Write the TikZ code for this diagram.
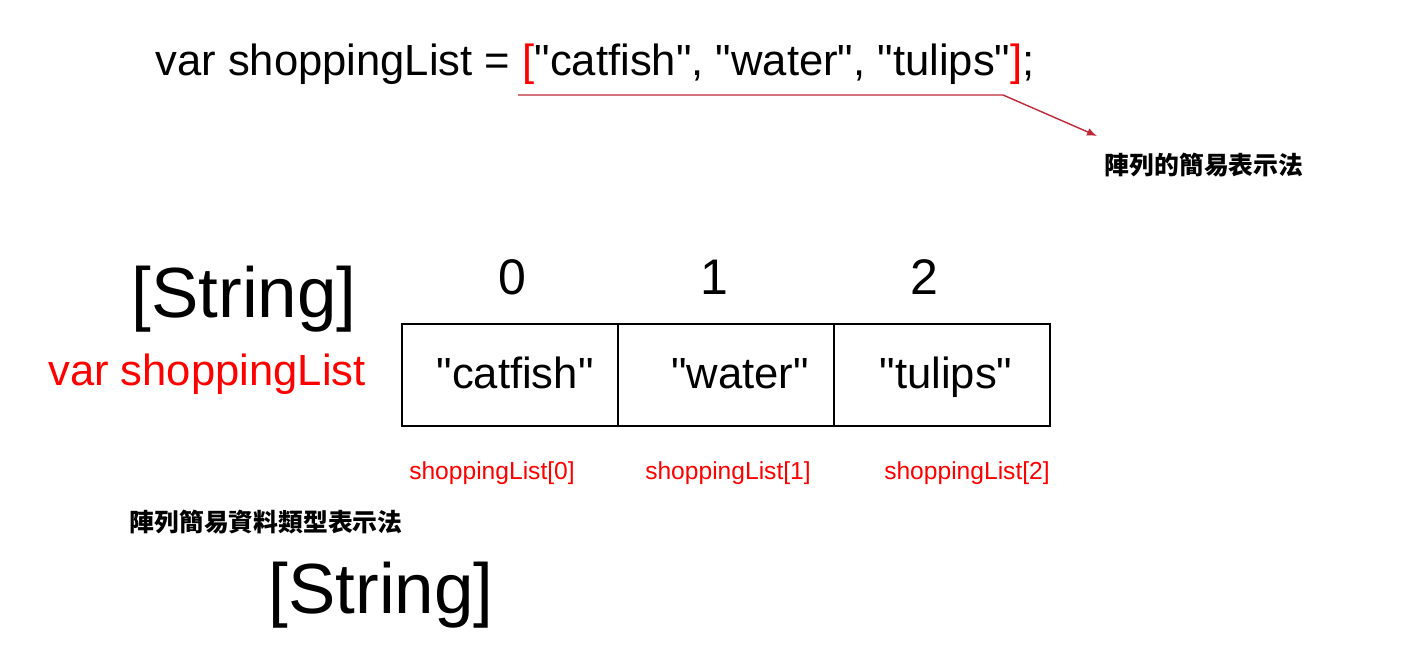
\documentclass[tikz,border=0pt]{standalone}
\usepackage{fontspec}
\setmainfont{Liberation Sans}
\newfontfamily\cjk{Noto Sans CJK TC}
\usetikzlibrary{arrows.meta,positioning}
\definecolor{hired}{RGB}{255,0,0}
\definecolor{linered}{RGB}{190,40,55}
\newcommand\q{\textquotedbl}
\begin{document}
\begin{tikzpicture}[x=0.5pt,y=-0.5pt,
  big/.style={font=\fontsize{21.8}{24}\selectfont, inner sep=0pt, text height=16pt, text depth=4.5pt},
  huge/.style={font=\fontsize{35.5}{40}\selectfont, inner sep=0pt},
  cell/.style={draw, line width=0.6pt, minimum width=108pt, minimum height=51pt, inner sep=0pt, outer sep=0pt, text height=18pt, text depth=4.5pt, font=\fontsize{21.8}{24}\selectfont},
  sub/.style={text=hired, font=\fontsize{12.3}{14}\selectfont, inner sep=0pt},
  note/.style={font=\cjk\bfseries\fontsize{12.4}{14}\selectfont, inner sep=0pt}]
\useasboundingbox (0,0) rectangle (1408,667);
% array literal
\node[big, anchor=base west] (code) at (155,76)
  {var shoppingList = \textcolor{hired}{[}\q catfish\q, \q water\q, \q tulips\q\textcolor{hired}{]};};
\node[note] (arrnote) at (1204,165) {陣列的簡易表示法};
\coordinate (ulstart) at (518,95);
\coordinate (ulbend) at (1003,95);
\coordinate (ulend) at (1097,136);
\draw[linered, line width=0.7pt, -{Latex[length=5pt,width=4pt]}] (ulstart) -- (ulbend) -- (ulend);
% the array
\node[huge] (typebig) at (244,299) {[String]};
\node[big, text=hired] (varname) at (207,374) {var shoppingList};
\node[cell] (cell0) at (510,375) {\hspace*{5pt}\q catfish\q};
\node[cell, right=0pt of cell0] (cell1) {\hspace*{14pt}\q water\q};
\node[cell, right=0pt of cell1] (cell2) {\hspace*{4pt}\q tulips\q};
\foreach \i/\x in {0/512,1/714,2/924}
  \node[font=\fontsize{25}{28}\selectfont, inner sep=0pt] (idx\i) at (\x,277) {\i};
\foreach \i/\x in {0/492,1/728,2/967}
  \node[sub] (sub\i) at (\x,473) {shoppingList[\i]};
% type shorthand
\node[note] (typenote) at (266,522) {陣列簡易資料類型表示法};
\node[huge] (typesmall) at (381,595) {[String]};
\end{tikzpicture}
\end{document}
